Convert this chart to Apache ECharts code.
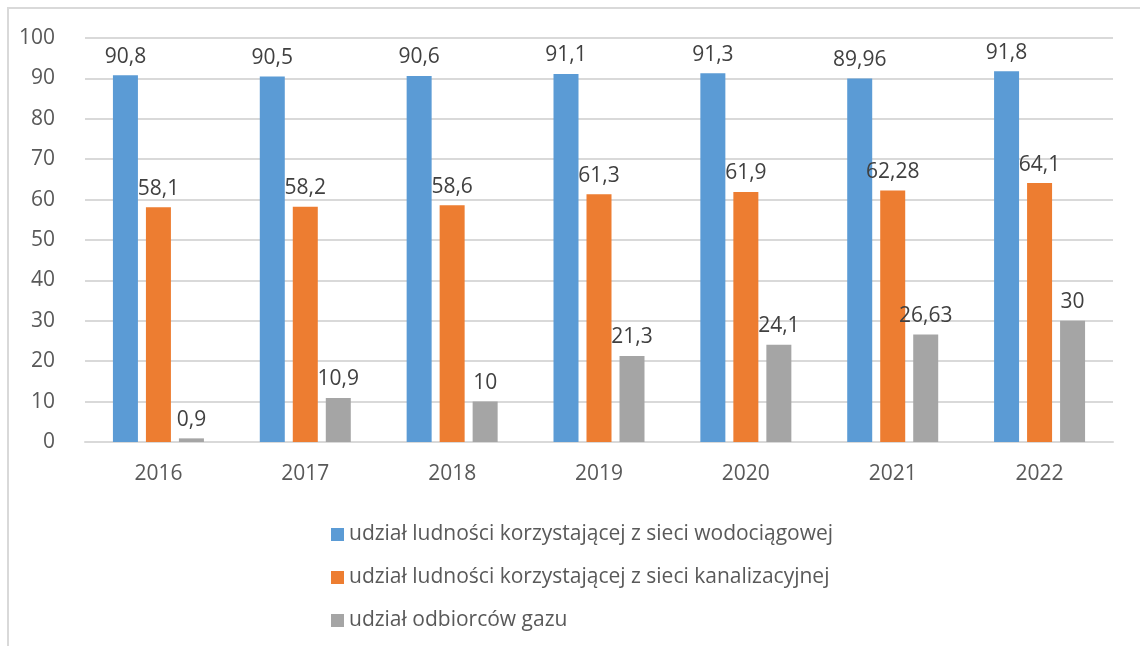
<!DOCTYPE html>
<html>
<head>
<meta charset="utf-8">
<script src="https://cdn.jsdelivr.net/npm/echarts@6/dist/echarts.min.js"></script>
<style>
  html, body { margin: 0; padding: 0; background: #fff; }
  #chartBox { width: 1140px; height: 646px; }
</style>
</head>
<body>
<div id="chartBox"></div>
<script>
const years = ['2016', '2017', '2018', '2019', '2020', '2021', '2022'];
const waterShare = [90.8, 90.5, 90.6, 91.1, 91.3, 89.96, 91.8];
const sewerShare = [58.1, 58.2, 58.6, 61.3, 61.9, 62.28, 64.1];
const gasShare = [0.9, 10.9, 10, 21.3, 24.1, 26.63, 30];
const seriesNames = [
  'udział ludności korzystającej z sieci wodociągowej',
  'udział ludności korzystającej z sieci kanalizacyjnej',
  'udział odbiorców gazu'
];

const font = '"Open Sans", "Noto Sans", sans-serif';

function barSeries(name, data) {
  return {
    name: name,
    type: 'bar',
    barWidth: 25,
    barGap: '32%',
    label: {
      show: true,
      position: 'top',
      distance: 8,
      color: '#404040',
      fontSize: 21,
      fontFamily: font,
      formatter: p => String(p.value).replace('.', ',')
    },
    data: data
  };
}

const chart = echarts.init(document.getElementById('chartBox'));
chart.setOption({
  animation: false,
  color: ['#5b9bd5', '#ed7d31', '#a5a5a5'],
  graphic: [{
    type: 'rect',
    shape: { x: 8, y: 8, width: 1150, height: 660 },
    style: { fill: 'none', stroke: '#d9d9d9', lineWidth: 2 },
    silent: true
  }],
  grid: { left: 85, right: 27, top: 38, bottom: 204 },
  legend: {
    orient: 'vertical',
    left: 326,
    top: 519,
    itemWidth: 13,
    itemHeight: 13,
    itemGap: 22,
    icon: 'rect',
    textStyle: { color: '#595959', fontSize: 21, fontFamily: font },
    data: seriesNames
  },
  xAxis: {
    type: 'category',
    data: years,
    axisLine: { lineStyle: { color: '#d9d9d9', width: 2 } },
    axisTick: { show: false },
    axisLabel: { color: '#595959', fontSize: 21, fontFamily: font, margin: 22 }
  },
  yAxis: {
    type: 'value',
    min: 0,
    max: 100,
    interval: 10,
    axisLine: { show: false },
    axisTick: { show: false },
    splitLine: { lineStyle: { color: '#d9d9d9', width: 2 } },
    axisLabel: { color: '#595959', fontSize: 21, fontFamily: font, margin: 30 }
  },
  series: [
    barSeries(seriesNames[0], waterShare),
    barSeries(seriesNames[1], sewerShare),
    barSeries(seriesNames[2], gasShare)
  ]
});
</script>
</body>
</html>
